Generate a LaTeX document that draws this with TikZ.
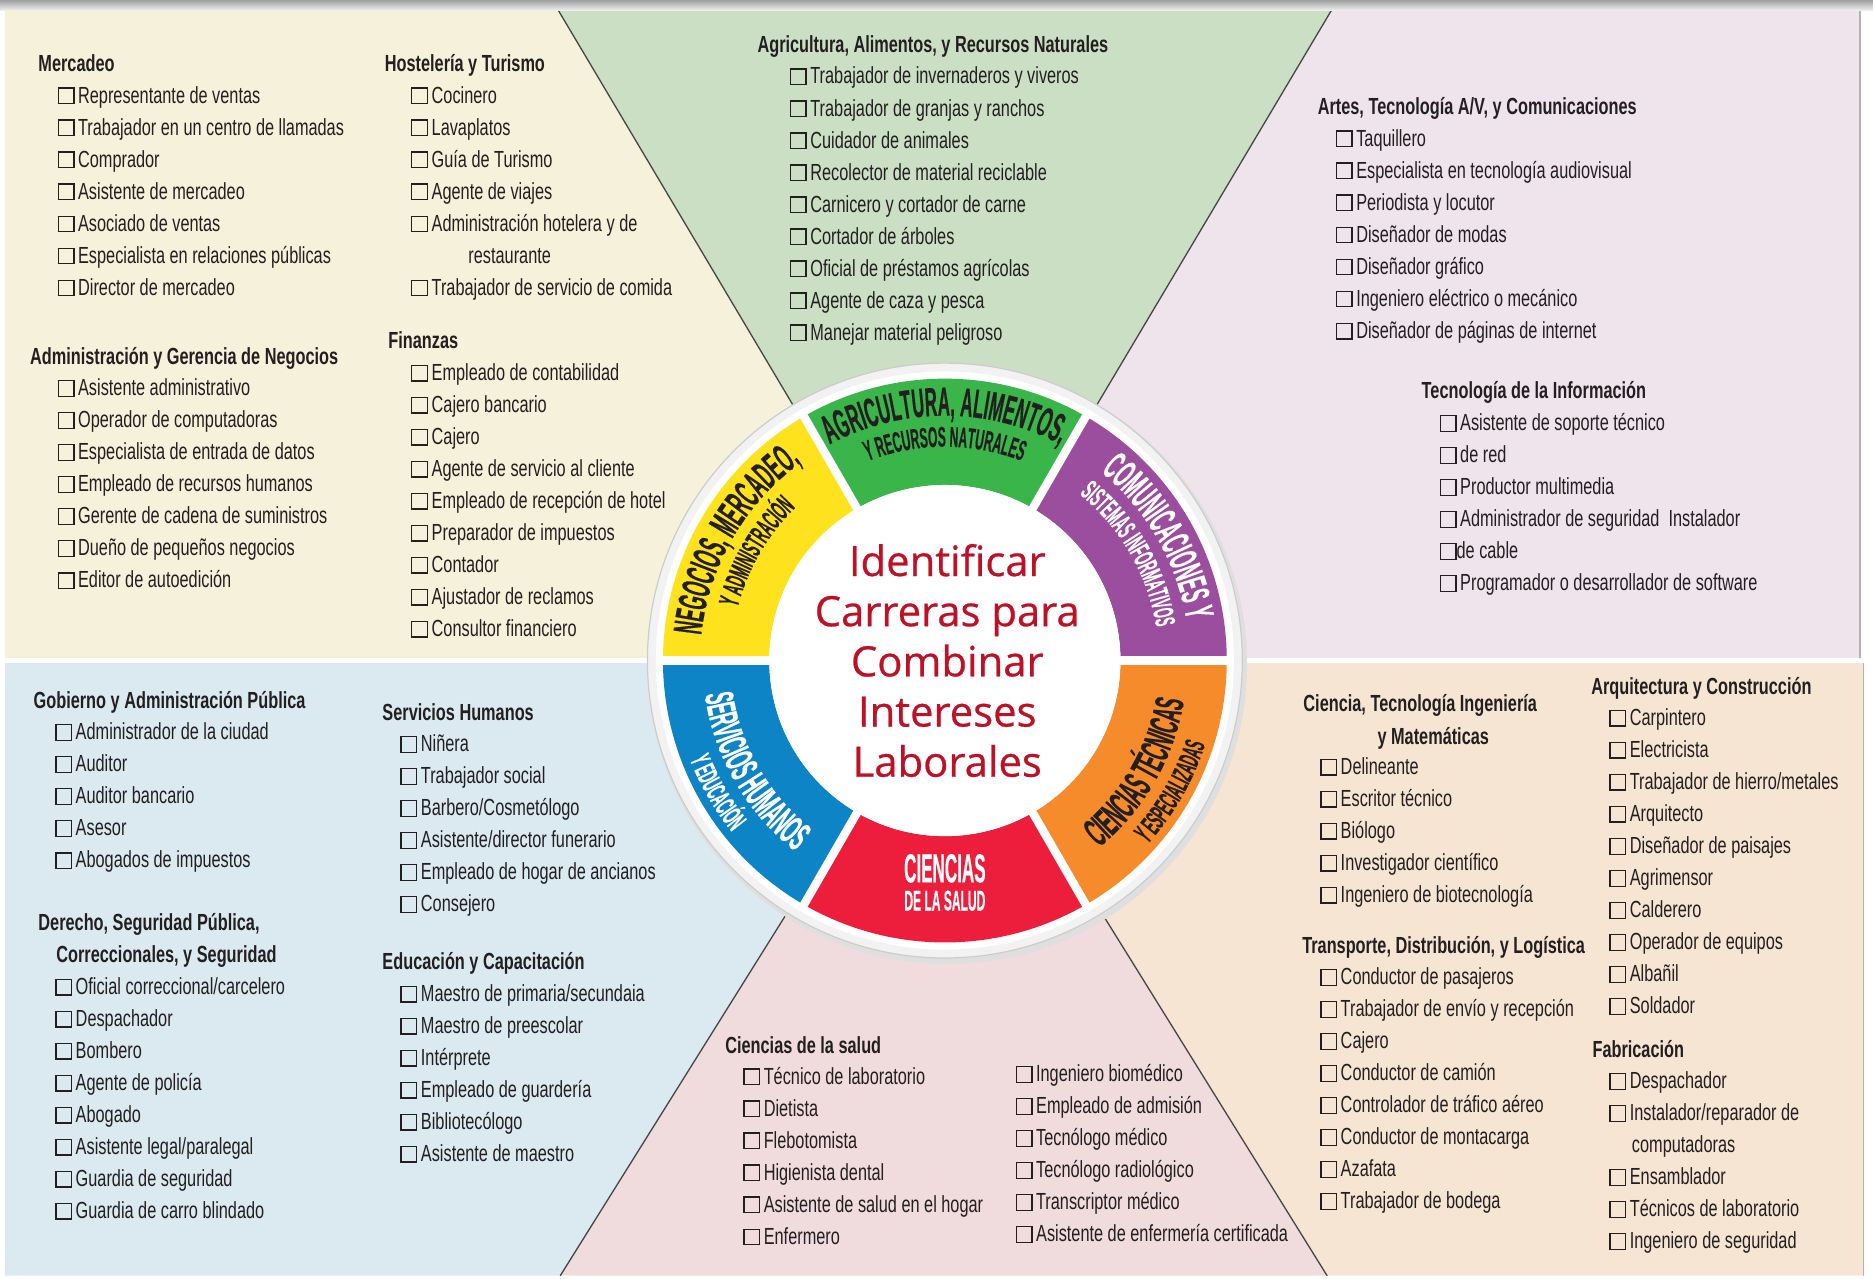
\documentclass[tikz,border=0pt]{standalone}
\usepackage{fontspec}
\setmainfont{Liberation Sans}[FakeStretch=0.7]
\newfontfamily\wheelfont{Liberation Sans}[FakeStretch=0.42, FakeBold=0.3]
\newfontfamily\titlefont{Open Sans}[FakeBold=0.6]
\usetikzlibrary{decorations.text}

\definecolor{creambg}{RGB}{246,241,218}
\definecolor{greenbg}{RGB}{203,223,197}
\definecolor{lilacbg}{RGB}{239,227,236}
\definecolor{bluebg}{RGB}{219,233,241}
\definecolor{rosebg}{RGB}{240,219,221}
\definecolor{peachbg}{RGB}{245,229,210}
\definecolor{wgreen}{RGB}{58,181,74}
\definecolor{wpurple}{RGB}{155,77,158}
\definecolor{worange}{RGB}{246,139,44}
\definecolor{wred}{RGB}{236,30,60}
\definecolor{wblue}{RGB}{12,132,198}
\definecolor{wyellow}{RGB}{254,226,30}
\definecolor{titlered}{RGB}{190,16,38}
\definecolor{ink}{RGB}{35,31,32}

\newcommand{\chk}{{\setlength{\fboxsep}{0pt}\setlength{\fboxrule}{1.1pt}\fbox{\rule{0pt}{12pt}\rule{12pt}{0pt}}}\hspace{3pt}}
\newcommand{\bigw}{\wheelfont\bfseries\fontsize{34}{34}\selectfont}
\newcommand{\smallw}{\wheelfont\bfseries\fontsize{24}{24}\selectfont}

\begin{document}
\begin{tikzpicture}[x=1pt, y=1pt]
    \tikzstyle{list head} = [anchor=base west, inner sep=0pt, text=ink, font=\bfseries\fontsize{19.5}{26.8}\selectfont]
    \tikzstyle{item list} = [anchor=north west, inner sep=0pt, align=left, text=ink, font=\fontsize{19.5}{26.8}\selectfont, execute at begin node=\rule{0pt}{15pt}]
    \tikzstyle{ray line} = [gray!55!black, line width=1.1pt]
    \tikzstyle{band gap} = [white, line width=7pt]
    \tikzstyle{red label} = [inner sep=0pt, text=white]

    \useasboundingbox (0,0) rectangle (1568,1070);
    \fill[white] (0,0) rectangle (1568,1070);
    \coordinate (hub) at (791,517);

    % background fields
    \fill[creambg] (4,519) -- (4,1062) -- (467,1062) -- (hub) -- cycle;
    \fill[greenbg] (467,1062) -- (1115,1062) -- (hub) -- cycle;
    \fill[lilacbg] (1115,1062) -- (1557,1062) -- (1557,519) -- (hub) -- cycle;
    \fill[bluebg] (4,515) -- (hub) -- (469,2) -- (4,2) -- cycle;
    \fill[rosebg] (469,2) -- (hub) -- (1111,2) -- cycle;
    \fill[peachbg] (1111,2) -- (hub) -- (1560,515) -- (1560,2) -- cycle;

    \draw[white, line width=4pt] (0,517) -- (1568,517);
    \draw[ray line] (hub) -- (467,1062);
    \draw[ray line] (hub) -- (1115,1062);
    \draw[ray line] (hub) -- (469,2);
    \draw[ray line] (hub) -- (1111,2);
    \shade[top color=gray!75, bottom color=gray!10] (0,1061) rectangle (1568,1070);
    \draw[gray!60, line width=1.5pt] (1557,519) -- (1557,1061);
    \draw[gray!60, line width=1.5pt] (1560,2) -- (1560,515);

    % wheel
    \begin{scope}[shift={(hub)}]
        \fill[gray!25] (2,-3) circle[radius=251];
        \fill[gray!10] (0,0) circle[radius=249];
        \draw[gray!40, line width=1pt] (0,0) circle[radius=249];
        \fill[white] (0,0) circle[radius=242];

        \fill[wpurple] (0:236) arc[start angle=0, end angle=60, radius=236] -- (60:147) arc[start angle=60, end angle=0, radius=147] -- cycle;
        \fill[wgreen] (60:236) arc[start angle=60, end angle=120, radius=236] -- (120:147) arc[start angle=120, end angle=60, radius=147] -- cycle;
        \fill[wyellow] (120:236) arc[start angle=120, end angle=180, radius=236] -- (180:147) arc[start angle=180, end angle=120, radius=147] -- cycle;
        \fill[wblue] (180:236) arc[start angle=180, end angle=240, radius=236] -- (240:147) arc[start angle=240, end angle=180, radius=147] -- cycle;
        \fill[wred] (240:236) arc[start angle=240, end angle=300, radius=236] -- (300:147) arc[start angle=300, end angle=240, radius=147] -- cycle;
        \fill[worange] (300:236) arc[start angle=300, end angle=360, radius=236] -- (0:147) arc[start angle=360, end angle=300, radius=147] -- cycle;

        \draw[band gap] (0:140) -- (0:242);
        \draw[band gap] (60:140) -- (60:242);
        \draw[band gap] (120:140) -- (120:242);
        \draw[band gap] (180:140) -- (180:242);
        \draw[band gap] (240:140) -- (240:242);
        \draw[band gap] (300:140) -- (300:242);
        \fill[white] (0,0) circle[radius=147];

        \path[decorate, decoration={text along path, text align=center, text color=ink, text={|\bigw|AGRICULTURA, ALIMENTOS,}}] (119:205) arc[start angle=119, end angle=61, radius=205];
        \path[decorate, decoration={text along path, text align=center, text color=ink, text={|\smallw|Y RECURSOS NATURALES}}] (118:179) arc[start angle=118, end angle=62, radius=179];
        \path[decorate, decoration={text along path, text align=center, text color=white, text={|\bigw|COMUNICACIONES Y}}] (59:205) arc[start angle=59, end angle=1, radius=205];
        \path[decorate, decoration={text along path, text align=center, text color=white, text={|\smallw|SISTEMAS INFORMATIVOS}}] (59:179) arc[start angle=59, end angle=1, radius=179];
        \path[decorate, decoration={text along path, text align=center, text color=ink, text={|\bigw|NEGOCIOS, MERCADEO,}}] (179:205) arc[start angle=179, end angle=121, radius=205];
        \path[decorate, decoration={text along path, text align=center, text color=ink, text={|\smallw|Y ADMINISTRACIÓN}}] (179:179) arc[start angle=179, end angle=121, radius=179];
        \path[decorate, decoration={text along path, text align=center, text color=ink, text={|\bigw|CIENCIAS TÉCNICAS}}] (-59:203) arc[start angle=-59, end angle=-1, radius=203];
        \path[decorate, decoration={text along path, text align=center, text color=ink, text={|\smallw|Y ESPECIALIZADAS}}] (-59:229) arc[start angle=-59, end angle=-1, radius=229];
        \path[decorate, decoration={text along path, text align=center, text color=white, text={|\bigw|SERVICIOS HUMANOS}}] (181:203) arc[start angle=181, end angle=239, radius=203];
        \path[decorate, decoration={text along path, text align=center, text color=white, text={|\smallw|Y EDUCACIÓN}}] (181:229) arc[start angle=181, end angle=239, radius=229];

        \node[red label, font=\bigw] (ciencias) at (0,-174) {CIENCIAS};
        \node[red label, font=\smallw] (salud) at (0,-201) {DE LA SALUD};

        \node[align=center, inner sep=0pt, text=titlered, font=\titlefont\fontsize{35}{42}\selectfont] (title) at (2,0) {Identificar\\Carreras para\\Combinar\\Intereses\\Laborales};
    \end{scope}

    % lists
    \node[list head] (mercadeo) at (32,1010) {Mercadeo};
    \node[item list] (mercadeo-items) at (48,998) {\chk Representante de ventas\\ \chk Trabajador en un centro de llamadas\\ \chk Comprador\\ \chk Asistente de mercadeo\\ \chk Asociado de ventas\\ \chk Especialista en relaciones públicas\\ \chk Director de mercadeo};

    \node[list head] (gerencia) at (25,765) {Administración y Gerencia de Negocios};
    \node[item list] (gerencia-items) at (48,753) {\chk Asistente administrativo\\ \chk Operador de computadoras\\ \chk Especialista de entrada de datos\\ \chk Empleado de recursos humanos\\ \chk Gerente de cadena de suministros\\ \chk Dueño de pequeños negocios\\ \chk Editor de autoedición};

    \node[list head] (hosteleria) at (322,1010) {Hostelería y Turismo};
    \node[item list] (hosteleria-items) at (344,998) {\chk Cocinero\\ \chk Lavaplatos\\ \chk Guía de Turismo\\ \chk Agente de viajes\\ \chk Administración hotelera y de\\ \hspace*{48pt}restaurante\\ \chk Trabajador de servicio de comida};

    \node[list head] (finanzas) at (325,778) {Finanzas};
    \node[item list] (finanzas-items) at (344,766) {\chk Empleado de contabilidad\\ \chk Cajero bancario\\ \chk Cajero\\ \chk Agente de servicio al cliente\\ \chk Empleado de recepción de hotel\\ \chk Preparador de impuestos\\ \chk Contador\\ \chk Ajustador de reclamos\\ \chk Consultor financiero};

    \node[list head] (agricultura) at (634,1026) {Agricultura, Alimentos, y Recursos Naturales};
    \node[item list] (agricultura-items) at (661,1014) {\chk Trabajador de invernaderos y viveros\\ \chk Trabajador de granjas y ranchos\\ \chk Cuidador de animales\\ \chk Recolector de material reciclable\\ \chk Carnicero y cortador de carne\\ \chk Cortador de árboles\\ \chk Oficial de préstamos agrícolas\\ \chk Agente de caza y pesca\\ \chk Manejar material peligroso};

    \node[list head] (artes) at (1103,974) {Artes, Tecnología A/V, y Comunicaciones};
    \node[item list] (artes-items) at (1118,962) {\chk Taquillero\\ \chk Especialista en tecnología audiovisual\\ \chk Periodista y locutor\\ \chk Diseñador de modas\\ \chk Diseñador gráfico\\ \chk Ingeniero eléctrico o mecánico\\ \chk Diseñador de páginas de internet};

    \node[list head] (informacion) at (1190,736) {Tecnología de la Información};
    \node[item list] (informacion-items) at (1205,724) {\chk Asistente de soporte técnico\\ \chk de red\\ \chk Productor multimedia\\ \chk Administrador de seguridad\ \ Instalador\\ \chk\hspace{-3pt}de cable\\ \chk Programador o desarrollador de software};

    \node[list head] (gobierno) at (28,477) {Gobierno y Administración Pública};
    \node[item list] (gobierno-items) at (46,465) {\chk Administrador de la ciudad\\ \chk Auditor\\ \chk Auditor bancario\\ \chk Asesor\\ \chk Abogados de impuestos};

    \node[list head] (derecho) at (32,291) {Derecho, Seguridad Pública,};
    \node[list head] (derecho-2) at (47,264) {Correccionales, y Seguridad};
    \node[item list] (derecho-items) at (46,252) {\chk Oficial correccional/carcelero\\ \chk Despachador\\ \chk Bombero\\ \chk Agente de policía\\ \chk Abogado\\ \chk Asistente legal/paralegal\\ \chk Guardia de seguridad\\ \chk Guardia de carro blindado};

    \node[list head] (humanos) at (320,467) {Servicios Humanos};
    \node[item list] (humanos-items) at (335,455) {\chk Niñera\\ \chk Trabajador social\\ \chk Barbero/Cosmetólogo\\ \chk Asistente/director funerario\\ \chk Empleado de hogar de ancianos\\ \chk Consejero};

    \node[list head] (educacion) at (320,258) {Educación y Capacitación};
    \node[item list] (educacion-items) at (335,246) {\chk Maestro de primaria/secundaia\\ \chk Maestro de preescolar\\ \chk Intérprete\\ \chk Empleado de guardería\\ \chk Bibliotecólogo\\ \chk Asistente de maestro};

    \node[list head] (salud-head) at (607,188) {Ciencias de la salud};
    \node[item list] (salud-items) at (622,177) {\chk Técnico de laboratorio\\ \chk Dietista\\ \chk Flebotomista\\ \chk Higienista dental\\ \chk Asistente de salud en el hogar\\ \chk Enfermero};
    \node[item list] (salud-items-2) at (850,179) {\chk Ingeniero biomédico\\ \chk Empleado de admisión\\ \chk Tecnólogo médico\\ \chk Tecnólogo radiológico\\ \chk Transcriptor médico\\ \chk Asistente de enfermería certificada};

    \node[list head] (ciencia) at (1091,474) {Ciencia, Tecnología Ingeniería};
    \node[list head] (ciencia-2) at (1153,447) {y Matemáticas};
    \node[item list] (ciencia-items) at (1105,436) {\chk Delineante\\ \chk Escritor técnico\\ \chk Biólogo\\ \chk Investigador científico\\ \chk Ingeniero de biotecnología};

    \node[list head] (transporte) at (1090,272) {Transporte, Distribución, y Logística};
    \node[item list] (transporte-items) at (1105,260) {\chk Conductor de pasajeros\\ \chk Trabajador de envío y recepción\\ \chk Cajero\\ \chk Conductor de camión\\ \chk Controlador de tráfico aéreo\\ \chk Conductor de montacarga\\ \chk Azafata\\ \chk Trabajador de bodega};

    \node[list head] (arquitectura) at (1332,489) {Arquitectura y Construcción};
    \node[item list] (arquitectura-items) at (1347,477) {\chk Carpintero\\ \chk Electricista\\ \chk Trabajador de hierro/metales\\ \chk Arquitecto\\ \chk Diseñador de paisajes\\ \chk Agrimensor\\ \chk Calderero\\ \chk Operador de equipos\\ \chk Albañil\\ \chk Soldador};

    \node[list head] (fabricacion) at (1333,185) {Fabricación};
    \node[item list] (fabricacion-items) at (1347,173) {\chk Despachador\\ \chk Instalador/reparador de\\ \hspace*{19pt}computadoras\\ \chk Ensamblador\\ \chk Técnicos de laboratorio\\ \chk Ingeniero de seguridad};

\end{tikzpicture}
\end{document}
